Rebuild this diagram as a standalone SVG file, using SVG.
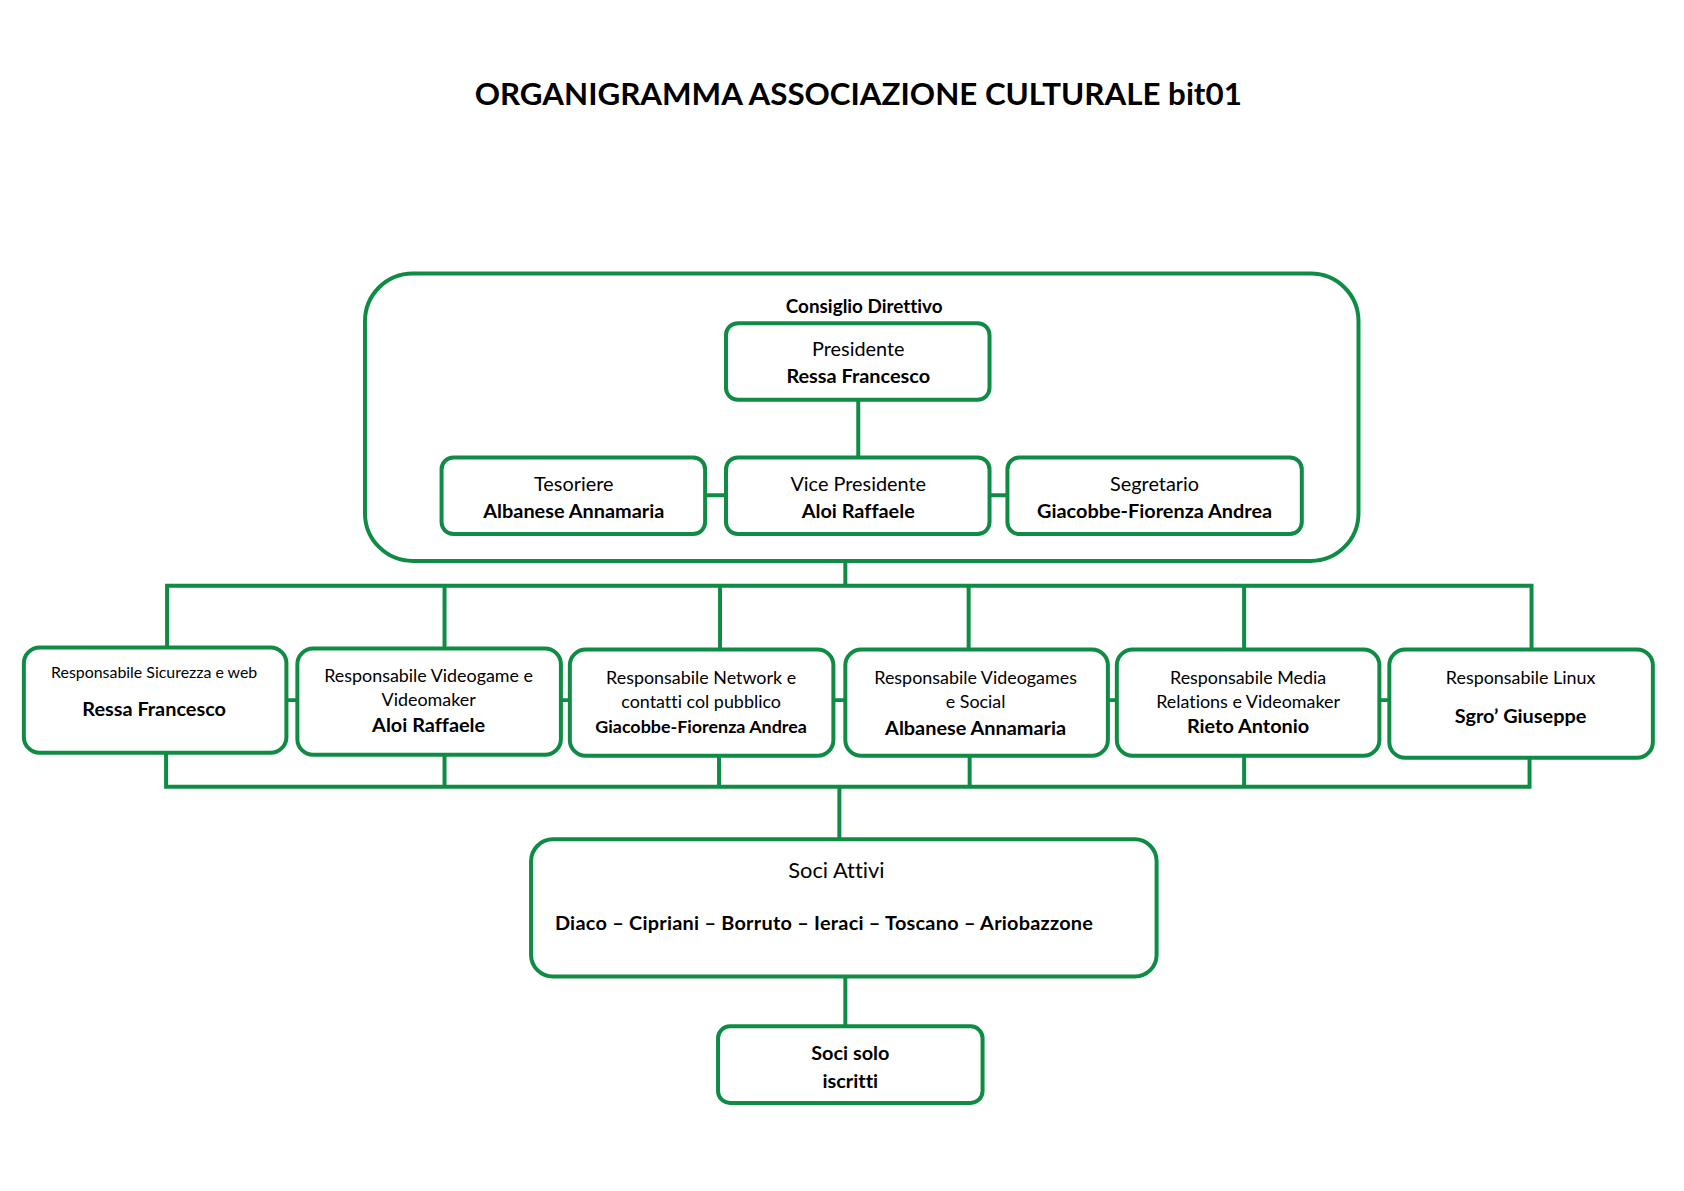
<svg xmlns="http://www.w3.org/2000/svg" width="1684" height="1191" viewBox="0 0 1684 1191">
<style>
.box{fill:#fff;stroke:#0e8c43;stroke-width:4}
.outer{fill:none;stroke:#0e8c43;stroke-width:4}
.ln{fill:none;stroke:#0e8c43;stroke-width:4;stroke-linecap:square}
text{font-family:Lato,"Open Sans","Liberation Sans",sans-serif;fill:#000;text-anchor:middle;font-variant-ligatures:none;font-feature-settings:"liga" 0}
.r{font-size:20px}
.b{font-size:20px;font-weight:bold}
.s{font-size:18px}
.xs{font-size:16px}
.t{font-size:31.5px;font-weight:bold}
</style>
<rect width="1684" height="1191" fill="#fff"/>
<g transform="scale(0.9945)">
<text class="t" x="863" y="106">ORGANIGRAMMA ASSOCIAZIONE CULTURALE bit01</text>
<g id="consiglio">
<rect class="outer" x="367" y="275" width="999" height="289" rx="48"/>
<text class="b" x="869" y="315" style="font-size:19px">Consiglio Direttivo</text>
</g>
<g id="connectors">
<path class="ln" d="M863 402V460"/>
<path class="ln" d="M709 498H730M995 498H1013"/>
<path class="ln" d="M850 564V589M168 589H1540M168 589V651M447 589V652M724 589V653M974 589V653M1251 589V653M1540 589V653"/>
<path class="ln" d="M288 704H299M564 704H573M838 704H850M1114 704H1123M1387 704H1397"/>
<path class="ln" d="M167 757V791M447 759V791M723 760V791M975 760V791M1251 760V791M1538 762V791M167 791H1538M844 791V844"/>
<path class="ln" d="M850 982V1032"/>
</g>
<g id="presidente">
<rect class="box" x="730" y="325" width="265" height="77" rx="12"/>
<text class="r" x="863" y="358">Presidente</text>
<text class="b" x="863" y="385">Ressa Francesco</text>
</g>
<g id="tesoriere">
<rect class="box" x="444" y="460" width="265" height="77" rx="12"/>
<text class="r" x="577" y="494">Tesoriere</text>
<text class="b" x="577" y="521">Albanese Annamaria</text>
</g>
<g id="vicepresidente">
<rect class="box" x="730" y="460" width="265" height="77" rx="12"/>
<text class="r" x="863" y="494">Vice Presidente</text>
<text class="b" x="863" y="521">Aloi Raffaele</text>
</g>
<g id="segretario">
<rect class="box" x="1013" y="460" width="296" height="77" rx="12"/>
<text class="r" x="1161" y="494">Segretario</text>
<text class="b" x="1161" y="521">Giacobbe-Fiorenza Andrea</text>
</g>
<g id="resp-sicurezza">
<rect class="box" x="24" y="651" width="264" height="106" rx="16"/>
<text class="xs" x="155" y="682">Responsabile Sicurezza e web</text>
<text class="b" x="155" y="720">Ressa Francesco</text>
</g>
<g id="resp-videogame">
<rect class="box" x="299" y="652" width="265" height="107" rx="16"/>
<text class="s" x="431" y="686">Responsabile Videogame e</text>
<text class="s" x="431" y="710">Videomaker</text>
<text class="b" x="431" y="736">Aloi Raffaele</text>
</g>
<g id="resp-network">
<rect class="box" x="573" y="653" width="265" height="107" rx="16"/>
<text class="s" x="705" y="688">Responsabile Network e</text>
<text class="s" x="705" y="712">contatti col pubblico</text>
<text class="b" x="705" y="737" style="font-size:18px">Giacobbe-Fiorenza Andrea</text>
</g>
<g id="resp-videogames-social">
<rect class="box" x="850" y="653" width="264" height="107" rx="16"/>
<text class="s" x="981" y="688">Responsabile Videogames</text>
<text class="s" x="981" y="712">e Social</text>
<text class="b" x="981" y="739">Albanese Annamaria</text>
</g>
<g id="resp-media">
<rect class="box" x="1123" y="653" width="264" height="107" rx="16"/>
<text class="s" x="1255" y="688">Responsabile Media</text>
<text class="s" x="1255" y="712">Relations e Videomaker</text>
<text class="b" x="1255" y="737">Rieto Antonio</text>
</g>
<g id="resp-linux">
<rect class="box" x="1397" y="653" width="265" height="109" rx="16"/>
<text class="s" x="1529" y="688">Responsabile Linux</text>
<text class="b" x="1529" y="727">Sgro’ Giuseppe</text>
</g>
<g id="soci-attivi">
<rect class="box" x="534" y="844" width="629" height="138" rx="22"/>
<text x="841" y="883" style="font-size:22px">Soci Attivi</text>
<text class="b" x="558" y="935" style="text-anchor:start" textLength="541" lengthAdjust="spacing">Diaco – Cipriani – Borruto – Ieraci – Toscano – Ariobazzone</text>
</g>
<g id="soci-iscritti">
<rect class="box" x="722" y="1032" width="266" height="77" rx="12"/>
<text class="b" x="855" y="1066">Soci solo</text>
<text class="b" x="855" y="1094">iscritti</text>
</g>
</g>
</svg>
